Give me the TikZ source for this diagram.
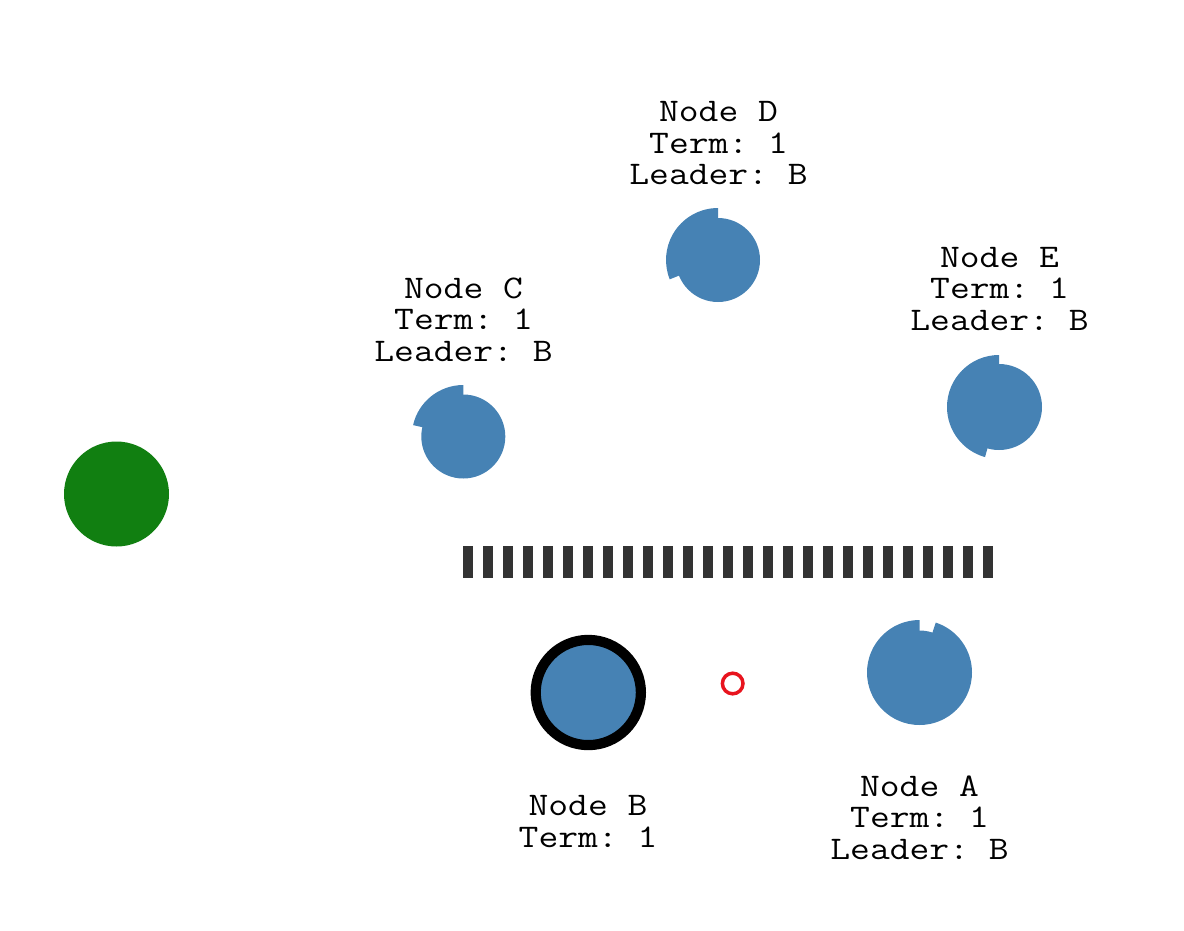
\documentclass[tikz,border=0pt]{standalone}
\usepackage{fontspec}
\setmonofont[FakeStretch=1.165]{Latin Modern Mono}
\definecolor{nodeblue}{RGB}{70,130,180}
\definecolor{clientgreen}{RGB}{17,127,17}
\definecolor{barcol}{RGB}{51,51,51}
\definecolor{msgred}{RGB}{232,20,30}
\begin{document}
\begin{tikzpicture}[x=1pt,y=-1pt,
  lbl/.style={anchor=base,inner sep=0pt,font=\ttfamily\fontsize{33}{31.3}\selectfont},
  server/.style={circle,fill=nodeblue,inner sep=0pt,outer sep=0pt,minimum size=84pt},
  ring/.style={fill=nodeblue}]
\useasboundingbox (0,0) rectangle (1184,930);
% client
\node[circle,fill=clientgreen,inner sep=0pt,minimum size=105pt] (client) at (116.5,494) {};
% partition bar
\coordinate (barL) at (463.3,562);
\coordinate (barR) at (994,562);
\draw[barcol,line width=32pt,dash pattern=on 10pt off 10pt] (barL) -- (barR);
% Node C
\node[server] (C) at (463.3,436.5) {};
\fill[ring] (C.center) -- ++(90:-51.5) arc[start angle=-90,end angle=-167.2,radius=51.5] -- cycle;
% Node D
\node[server] (D) at (718,260) {};
\fill[ring] (D.center) -- ++(90:-52) arc[start angle=-90,end angle=-201.8,radius=52] -- cycle;
% Node E
\node[server,minimum size=86pt] (E) at (999,407) {};
\fill[ring] (E.center) -- ++(90:-52) arc[start angle=-90,end angle=-254.4,radius=52] -- cycle;
% Node A
\node[server] (A) at (919.5,672.5) {};
\fill[ring] (A.center) -- ++(90:-52.5) arc[start angle=-90,end angle=-432,radius=52.5] -- cycle;
% Node B (leader)
\node[circle,fill=nodeblue,draw=black,line width=10.2pt,inner sep=0pt,outer sep=0pt,minimum size=105.2pt] (B) at (588.3,692.5) {};
% message
\node[circle,draw=msgred,line width=3.5pt,inner sep=0pt,minimum size=20.6pt] (msg) at (732.7,683.5) {};
% labels
\node[lbl] (D1) at (718.5,121.7) {Node D};
\node[lbl] (D2) at (718.5,153.2) {Term: 1};
\node[lbl] (D3) at (718.5,184.5) {Leader: B};
\node[lbl] (C1) at (463.5,298) {Node C};
\node[lbl] (C2) at (463.5,329.5) {Term: 1};
\node[lbl] (C3) at (463.5,361) {Leader: B};
\node[lbl] (E1) at (999.5,267) {Node E};
\node[lbl] (E2) at (999.5,298.5) {Term: 1};
\node[lbl] (E3) at (999.5,330) {Leader: B};
\node[lbl] (A1) at (919.5,796) {Node A};
\node[lbl] (A2) at (919.5,827.5) {Term: 1};
\node[lbl] (A3) at (919.5,859) {Leader: B};
\node[lbl] (B1) at (588,815.5) {Node B};
\node[lbl] (B2) at (588,847) {Term: 1};
\end{tikzpicture}
\end{document}
